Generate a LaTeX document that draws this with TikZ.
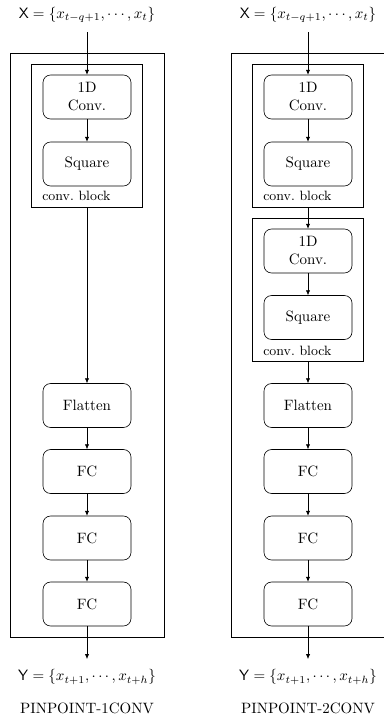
\documentclass[tikz,border=0pt]{standalone}
\usetikzlibrary{arrows.meta}
\begin{document}
\begin{tikzpicture}[x=0.667pt,y=-0.667pt,
  layer/.style={draw,rounded corners=5pt,minimum width=58.7pt,minimum height=29.3pt,align=center,inner sep=1pt},
  block/.style={draw,minimum width=74pt,minimum height=95.4pt,inner sep=0pt},
  frame/.style={draw,minimum width=102.7pt,minimum height=389.5pt,inner sep=0pt},
  flow/.style={-{Latex[length=3.2pt,width=2.8pt]}},
  blocklabel/.style={font=\small,anchor=base west,inner sep=0pt}]
\useasboundingbox (0,0) rectangle (383,724);

% ---------- PINPOINT-1CONV ----------
\node[frame] (outL) at (87,345) {};
\node[block] (bL) at (87,135.5) {};
\node[blocklabel] (bLlab) at (42,200) {conv.\ block};
\node (xL) at (87,15) {$\mathsf{X}=\{x_{t-q+1},\cdots,x_t\}$};
\coordinate (inL) at (87,32);
\node[layer] (cL) at (87,97) {1D\\Conv.};
\node[layer] (sL) at (87,164) {Square};
\node[layer] (fL) at (87,405.5) {Flatten};
\node[layer] (d1L) at (87,471.5) {FC};
\node[layer] (d2L) at (87,538) {FC};
\node[layer] (d3L) at (87,604) {FC};
\coordinate (outEndL) at (87,659);
\node (yL) at (87,677) {$\mathsf{Y}=\{x_{t+1},\cdots,x_{t+h}\}$};
\node (tL) at (87,708) {PINPOINT-1CONV};

\draw[flow] (inL) -- (cL);
\draw[flow] (cL) -- (sL);
\draw[flow] (bL) -- (fL);
\draw[flow] (fL) -- (d1L);
\draw[flow] (d1L) -- (d2L);
\draw[flow] (d2L) -- (d3L);
\draw[flow] (d3L) -- (outEndL);

% ---------- PINPOINT-2CONV ----------
\node[frame] (outR) at (308,345) {};
\node[block] (b1R) at (308,135.5) {};
\node[blocklabel] (b1Rlab) at (263,200) {conv.\ block};
\node[block] (b2R) at (308,290) {};
\node[blocklabel] (b2Rlab) at (263,355) {conv.\ block};
\node (xR) at (308,15) {$\mathsf{X}=\{x_{t-q+1},\cdots,x_t\}$};
\coordinate (inR) at (308,32);
\node[layer] (c1R) at (308,97) {1D\\Conv.};
\node[layer] (s1R) at (308,164) {Square};
\node[layer] (c2R) at (308,251) {1D\\Conv.};
\node[layer] (s2R) at (308,317.5) {Square};
\node[layer] (fR) at (308,405.5) {Flatten};
\node[layer] (d1R) at (308,471.5) {FC};
\node[layer] (d2R) at (308,538) {FC};
\node[layer] (d3R) at (308,604) {FC};
\coordinate (outEndR) at (308,659);
\node (yR) at (308,677) {$\mathsf{Y}=\{x_{t+1},\cdots,x_{t+h}\}$};
\node (tR) at (308,708) {PINPOINT-2CONV};

\draw[flow] (inR) -- (c1R);
\draw[flow] (c1R) -- (s1R);
\draw[flow] (b1R) -- (c2R);
\draw[flow] (c2R) -- (s2R);
\draw[flow] (b2R) -- (fR);
\draw[flow] (fR) -- (d1R);
\draw[flow] (d1R) -- (d2R);
\draw[flow] (d2R) -- (d3R);
\draw[flow] (d3R) -- (outEndR);
\end{tikzpicture}
\end{document}
